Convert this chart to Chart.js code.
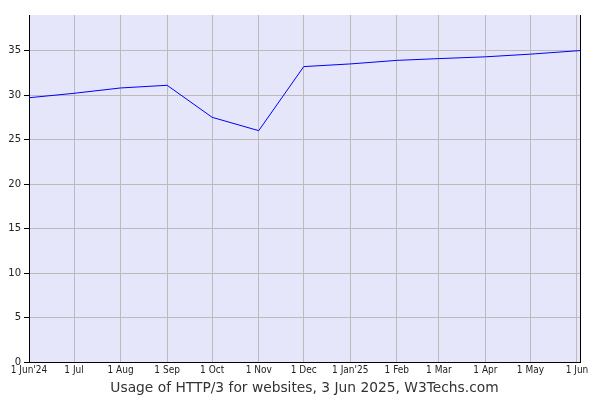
<!DOCTYPE html>
<html>
<head>
<meta charset="utf-8">
<script src="https://cdn.jsdelivr.net/npm/chart.js@4.4.1/dist/chart.umd.min.js"></script>
<style>
  html, body { margin: 0; padding: 0; background: #fff; }
  #wrap { width: 600px; height: 400px; }
</style>
</head>
<body>
<div id="wrap"><canvas id="chart"></canvas></div>
<script>
// days since 1 Jun 2024 for each sample
const sampleDays = [0, 30, 61, 92, 122, 153, 183, 214, 245, 273, 304, 334, 367];
const usagePct = [29.7, 30.2, 30.8, 31.1, 27.5, 26.0, 33.2, 33.5, 33.9, 34.1, 34.3, 34.6, 35.0];

const monthTickDays = [0, 30, 61, 92, 122, 153, 183, 214, 245, 273, 304, 334, 365];
const monthTickLabels = ["1 Jun'24", '1 Jul', '1 Aug', '1 Sep', '1 Oct', '1 Nov', '1 Dec', "1 Jan'25", '1 Feb', '1 Mar', '1 Apr', '1 May', '1 Jun'];
const yTicks = [0, 5, 10, 15, 20, 25, 30, 35];

const plotBg = {
  id: 'plotBg',
  beforeDraw(chart) {
    const a = chart.chartArea;
    const ctx = chart.ctx;
    ctx.save();
    ctx.fillStyle = '#e6e6fa';
    ctx.fillRect(a.left, a.top, a.right - a.left, a.bottom - a.top);
    ctx.restore();
  }
};

const tickFont = { family: '"DejaVu Sans Condensed", "DejaVu Sans", sans-serif', size: 10 };

new Chart(document.getElementById('chart').getContext('2d'), {
  type: 'line',
  data: {
    datasets: [{
      data: sampleDays.map((d, i) => ({ x: d, y: usagePct[i] })),
      borderColor: '#0000ff',
      borderWidth: 1,
      pointRadius: 0,
      tension: 0,
      fill: false
    }]
  },
  options: {
    responsive: true,
    maintainAspectRatio: false,
    animation: false,
    layout: { padding: { top: 15, right: 20, left: 0, bottom: 0 } },
    plugins: {
      legend: { display: false },
      tooltip: { enabled: false }
    },
    scales: {
      x: {
        type: 'linear',
        min: 0,
        max: 367,
        afterBuildTicks: s => { s.ticks = monthTickDays.map(v => ({ value: v })); },
        afterFit: s => { s.height = 38; },
        ticks: {
          autoSkip: false,
          maxRotation: 0,
          padding: 2,
          color: '#222',
          font: tickFont,
          callback: (v, i) => monthTickLabels[i]
        },
        grid: { color: '#bbbbbb', drawTicks: false },
        border: { color: '#000', width: 1 },
        title: {
          display: true,
          text: 'Usage of HTTP/3 for websites, 3 Jun 2025, W3Techs.com',
          color: '#333',
          font: { family: '"DejaVu Sans", sans-serif', size: 13.8 },
          padding: { top: 0, bottom: 3 }
        }
      },
      y: {
        min: 0,
        max: 39,
        afterBuildTicks: s => { s.ticks = yTicks.map(v => ({ value: v })); },
        afterFit: s => { s.width = 29; },
        ticks: { color: '#222', font: { family: '"DejaVu Sans", sans-serif', size: 10 }, padding: 3 },
        grid: { color: '#bbbbbb', tickColor: '#000', tickLength: 5 },
        border: { color: '#000', width: 1 }
      },
      yRight: {
        position: 'right',
        min: 0,
        max: 39,
        afterFit: s => { s.width = 0; },
        ticks: { display: false },
        grid: { drawOnChartArea: false, drawTicks: false },
        border: { color: '#000', width: 1 }
      }
    }
  },
  plugins: [plotBg]
});
</script>
</body>
</html>
